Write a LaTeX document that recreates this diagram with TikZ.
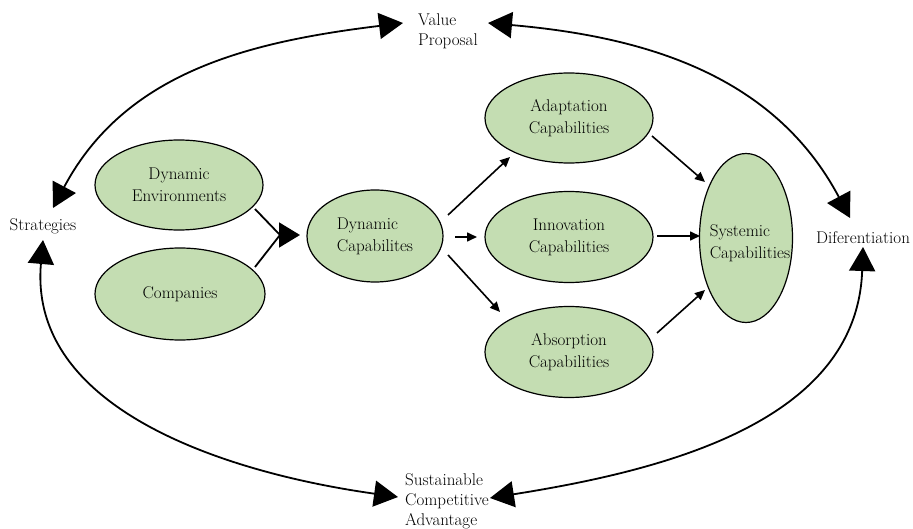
\documentclass[tikz,border=0pt]{standalone}
\usetikzlibrary{arrows.meta,shapes.geometric}
\definecolor{ellfill}{RGB}{196,221,178}
\begin{document}
\begin{tikzpicture}[x=1pt,y=-1pt,
  every node/.style={font=\fontsize{17}{22}\selectfont},
  ell/.style={ellipse,draw=black,line width=1.2pt,fill=ellfill,inner sep=0pt,align=center},
  lbl/.style={inner sep=0pt,align=left,font=\fontsize{17}{20}\selectfont},
  bigarrow/.style={line width=1.8pt,{Triangle[length=24pt,width=26pt]}-{Triangle[length=24pt,width=26pt]}},
  feedline/.style={line width=1.8pt},
  feed/.style={line width=1.8pt,-{Triangle[length=21pt,width=25pt]}},
  smallarrow/.style={line width=1.6pt,-{Triangle[length=10pt,width=9pt]}}]
\useasboundingbox (0,0) rectangle (913,529);

% ellipses
\node[ell,minimum width=168pt,minimum height=90pt] (de) at (179,185) {Dynamic\\Environments};
\node[ell,minimum width=170pt,minimum height=92pt] (co) at (180,294) {Companies};
\node[ell,minimum width=136pt,minimum height=92pt,align=left] (dc) at (375,236) {Dynamic\\Capabilites};
\node[ell,minimum width=168pt,minimum height=90pt] (ad) at (569,118) {Adaptation\\Capabilities};
\node[ell,minimum width=168pt,minimum height=91pt] (in) at (569,237) {Innovation\\Capabilities};
\node[ell,minimum width=168pt,minimum height=91pt] (ab) at (569,352) {Absorption\\Capabilities};
\node[ell,minimum width=93pt,minimum height=169pt] (sys) at (746,238) {};
\node[inner sep=0pt,align=left] (sysT) at (750,243) {Systemic\\Capabilities};

% outer labels
\node[lbl,anchor=west] (vp) at (418,31) {Value\\Proposal};
\node[lbl] (strat) at (43,226) {Strategies};
\node[lbl] (dif) at (863,238) {Diferentiation};
\node[lbl,anchor=west] (sca) at (405,501) {Sustainable\\Competitive\\Advantage};

% outer double arrows
\draw[bigarrow] ([shift={(10,-18)}]strat.center) to[out=62,in=187] ([shift={(-15,-8)}]vp.west);
\draw[bigarrow] ([shift={(70,-8)}]vp.west) to[out=-5,in=118] ([shift={(-13,-20)}]dif.center);
\draw[bigarrow] ([shift={(0,14)}]strat.center) to[out=-95,in=172] ([shift={(-7,-4)}]sca.west);
\draw[bigarrow] ([shift={(85,-3)}]sca.west) to[out=9,in=-92] ([shift={(0,9)}]dif.center);

% inputs to dynamic capabilities
\coordinate (join) at ([shift={(-95,-1)}]dc.center);
\draw[feedline] ([shift={(76,24)}]de.center) -- (join);
\draw[feedline] ([shift={(75,-27)}]co.center) -- (join);
\draw[feed] (join) -- ([shift={(-75,-1)}]dc.center);

% dynamic capabilities to the three capabilities
\draw[smallarrow] ([shift={(73,-21)}]dc.center) -- ([shift={(-59,39)}]ad.center);
\draw[smallarrow] ([shift={(80,1)}]dc.center) -- ([shift={(-92,0)}]in.center);
\draw[smallarrow] ([shift={(73,19)}]dc.center) -- ([shift={(-69,-40)}]ab.center);

% to systemic capabilities
\draw[smallarrow] ([shift={(83,18)}]ad.center) -- ([shift={(-41,-56)}]sys.center);
\draw[smallarrow] ([shift={(88,-1)}]in.center) -- ([shift={(-46,-2)}]sys.center);
\draw[smallarrow] ([shift={(88,-19)}]ab.center) -- ([shift={(-41,52)}]sys.center);
\end{tikzpicture}
\end{document}
